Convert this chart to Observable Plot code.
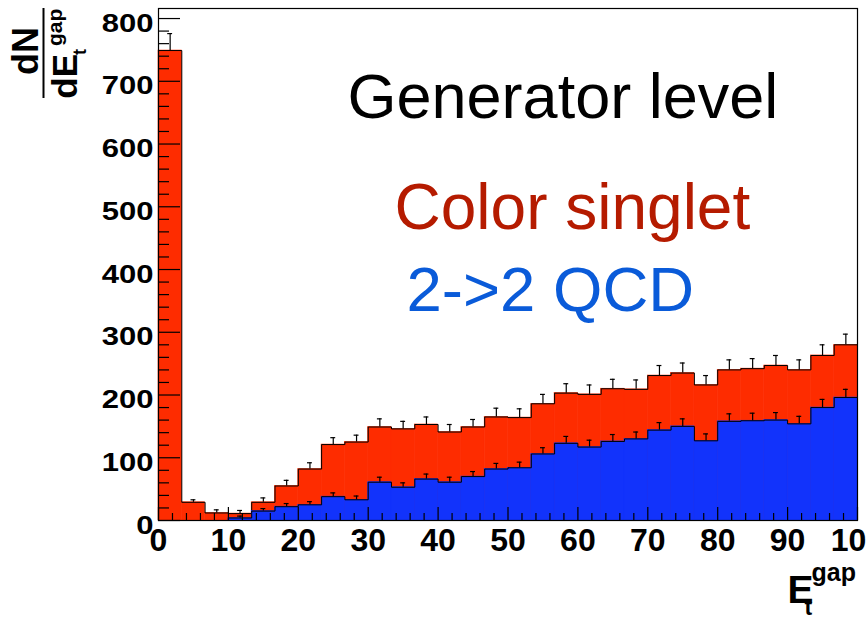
<!DOCTYPE html>
<html>
<head>
<meta charset="utf-8">
<script src="https://cdn.jsdelivr.net/npm/d3@7"></script>
<script src="https://cdn.jsdelivr.net/npm/@observablehq/plot@0.6"></script>
<style>
  html, body { margin: 0; padding: 0; background: white; overflow: hidden; }
  #chart svg { display: block; }
</style>
</head>
<body>
<div id="chart"></div>
<script>
// ---- data ----
const binEdges = [0, 3.333, 6.667, 10, 13.333, 16.667, 20, 23.333, 26.667, 30,
  33.333, 36.667, 40, 43.333, 46.667, 50, 53.333, 56.667, 60, 63.333,
  66.667, 70, 73.333, 76.667, 80, 83.333, 86.667, 90, 93.333, 96.667, 100];
const singletValues = [749, 29, 12, 11, 29, 55, 82, 121, 125, 149, 146, 153, 141, 149, 165,
  164, 186, 203, 201, 210, 209, 231, 235, 216, 240, 242, 247, 240, 263, 280];
const singletErrors = [27, 4, 5, 5, 7, 9, 10, 11, 11, 13, 12, 12, 12, 12, 14,
  14, 15, 15, 15, 15, 15, 16, 16, 15, 16, 16, 16, 16, 17, 17];
const qcdValues = [0, 0, 0, 4, 15, 22, 25, 38, 33, 61, 53, 66, 61, 70, 82,
  84, 106, 123, 117, 126, 130, 144, 150, 127, 158, 159, 160, 154, 180, 196];
const qcdErrors = [0, 0, 0, 3, 4, 5, 5, 6, 6, 8, 7, 8, 8, 8, 9,
  9, 10, 11, 11, 11, 11, 12, 12, 11, 12, 12, 12, 12, 13, 13];
const xMajorTicks = [0, 10, 20, 30, 40, 50, 60, 70, 80, 90, 100];
const xMinorTicks = [2, 4, 6, 8, 12, 14, 16, 18, 22, 24, 26, 28, 32, 34, 36, 38, 42, 44, 46, 48,
  52, 54, 56, 58, 62, 64, 66, 68, 72, 74, 76, 78, 82, 84, 86, 88, 92, 94, 96, 98];
const yMajorTicks = [0, 100, 200, 300, 400, 500, 600, 700, 800];
const yMinorTicks = [20, 40, 60, 80, 120, 140, 160, 180, 220, 240, 260, 280, 320, 340, 360, 380,
  420, 440, 460, 480, 520, 540, 560, 580, 620, 640, 660, 680, 720, 740, 760, 780];
const annotationLines = ["Generator level", "Color singlet", "2->2 QCD"];

// ---- derived tables ----
const bins = singletValues.map((v, i) => ({
  x0: binEdges[i], x1: binEdges[i + 1], xc: (binEdges[i] + binEdges[i + 1]) / 2,
  red: v, redErr: singletErrors[i], blue: qcdValues[i], blueErr: qcdErrors[i]
}));
const step = key => bins.flatMap(b => [{x: b.x0, y: b[key]}, {x: b.x1, y: b[key]}]);
const blueBins = bins.filter(b => b.blue > 0);

const RED = "#fe2c00", BLUE = "#1233fb";
const W = 866, H = 617, ML = 158, MR = 9, MT = 8, MB = 97;
const FW = W - ML - MR, FH = H - MT - MB;
const CAP = 0.35;

const plot = Plot.plot({
  width: W, height: H,
  marginLeft: ML, marginRight: MR, marginTop: MT, marginBottom: MB,
  x: {domain: [0, 100]},
  y: {domain: [0, 816]},
  style: {fontFamily: "'Liberation Sans', Arial, Helvetica, sans-serif", background: "white", color: "black"},
  marks: [
    Plot.rectY(bins, {x1: "x0", x2: "x1", y: "red", fill: RED, stroke: RED, strokeWidth: 0.6}),
    Plot.line(step("red"), {x: "x", y: "y", stroke: "black", strokeWidth: 1}),
    Plot.ruleX(bins, {x: "xc", y1: "red", y2: d => d.red + d.redErr, stroke: "black", strokeWidth: 1.2}),
    Plot.ruleY(bins, {x1: d => d.xc - CAP, x2: d => d.xc + CAP, y: d => d.red + d.redErr, stroke: "black", strokeWidth: 1.2}),
    Plot.rectY(blueBins, {x1: "x0", x2: "x1", y: "blue", fill: BLUE, stroke: BLUE, strokeWidth: 0.6}),
    Plot.line(step("blue").filter(p => p.x >= 10), {x: "x", y: "y", stroke: "black", strokeWidth: 1}),
    Plot.ruleX(blueBins, {x: "xc", y1: "blue", y2: d => d.blue + d.blueErr, stroke: "black", strokeWidth: 1.2}),
    Plot.ruleY(blueBins, {x1: d => d.xc - CAP, x2: d => d.xc + CAP, y: d => d.blue + d.blueErr, stroke: "black", strokeWidth: 1.2}),
    // inside ticks (ROOT style)
    Plot.tickX(xMajorTicks, {x: d => d, insetTop: FH - 13, stroke: "black", strokeWidth: 1.2}),
    Plot.tickX(xMinorTicks, {x: d => d, insetTop: FH - 7, stroke: "black", strokeWidth: 1.2}),
    Plot.tickY(yMajorTicks, {y: d => d, insetRight: FW - 22, stroke: "black", strokeWidth: 1.2}),
    Plot.tickY(yMinorTicks, {y: d => d, insetRight: FW - 11, stroke: "black", strokeWidth: 1.2}),
    Plot.frame({stroke: "black", strokeWidth: 1.2}),
    Plot.axisX({ticks: xMajorTicks, tickSize: 0, tickPadding: 8, fontSize: 32, fontWeight: "bold", label: null, tickFormat: d => String(d)}),
    Plot.axisY({ticks: yMajorTicks, tickSize: 0, tickPadding: 5, fontSize: 31, fontWeight: "bold", dy: 5, label: null, tickFormat: d => String(d)}),
    // annotations
    Plot.text([annotationLines[0]], {text: d => d, frameAnchor: "top-left", textAnchor: "start", lineAnchor: "top", dx: 189, dy: 65, fontSize: 63, fill: "black"}),
    Plot.text([annotationLines[1]], {text: d => d, frameAnchor: "top-left", textAnchor: "start", lineAnchor: "top", dx: 236, dy: 175, fontSize: 64, fill: "#b51b00"}),
    Plot.text([annotationLines[2]], {text: d => d, frameAnchor: "top-left", textAnchor: "start", lineAnchor: "top", dx: 248, dy: 257, fontSize: 63.5, fill: "#0a5bd9"}),
    // x-axis title E_t^gap
    Plot.text(["E"], {text: d => d, frameAnchor: "bottom-right", textAnchor: "start", lineAnchor: "top", dx: -70, dy: 55, fontSize: 39, fontWeight: "bold", fill: "black"}),
    Plot.text(["gap"], {text: d => d, frameAnchor: "bottom-right", textAnchor: "start", lineAnchor: "top", dx: -46, dy: 43, fontSize: 25, fontWeight: "bold", fill: "black"}),
    Plot.text(["t"], {text: d => d, frameAnchor: "bottom-right", textAnchor: "start", lineAnchor: "top", dx: -53, dy: 78, fontSize: 23, fontWeight: "bold", fill: "black"})
  ]
});

const svg = d3.select(plot);
// ROOT-like vertically compressed y tick labels
svg.selectAll('g[aria-label="y-axis tick label"] text').each(function () {
  const t = this.getAttribute("transform") || "";
  this.setAttribute("transform", t + " scale(1,0.82)");
});

// y-axis title: dN / dE_t^gap (rotated)
const yt = svg.append("g")
  .attr("transform", "rotate(-90)")
  .attr("font-family", "'Liberation Sans', Arial, Helvetica, sans-serif")
  .attr("font-weight", "bold")
  .attr("fill", "black");
yt.append("text").attr("x", -51).attr("y", 38).attr("text-anchor", "middle").attr("font-size", 36).text("dN");
yt.append("text").attr("x", -54).attr("y", 77).attr("text-anchor", "end").attr("font-size", 35).text("dE");
yt.append("text").attr("x", -46).attr("y", 62).attr("text-anchor", "start").attr("font-size", 21).text("gap");
yt.append("text").attr("x", -55).attr("y", 86).attr("text-anchor", "start").attr("font-size", 18).text("t");
svg.append("line").attr("x1", 43.5).attr("x2", 43.5).attr("y1", 8).attr("y2", 98)
  .attr("stroke", "black").attr("stroke-width", 2);

document.getElementById("chart").appendChild(plot);
</script>
</body>
</html>
